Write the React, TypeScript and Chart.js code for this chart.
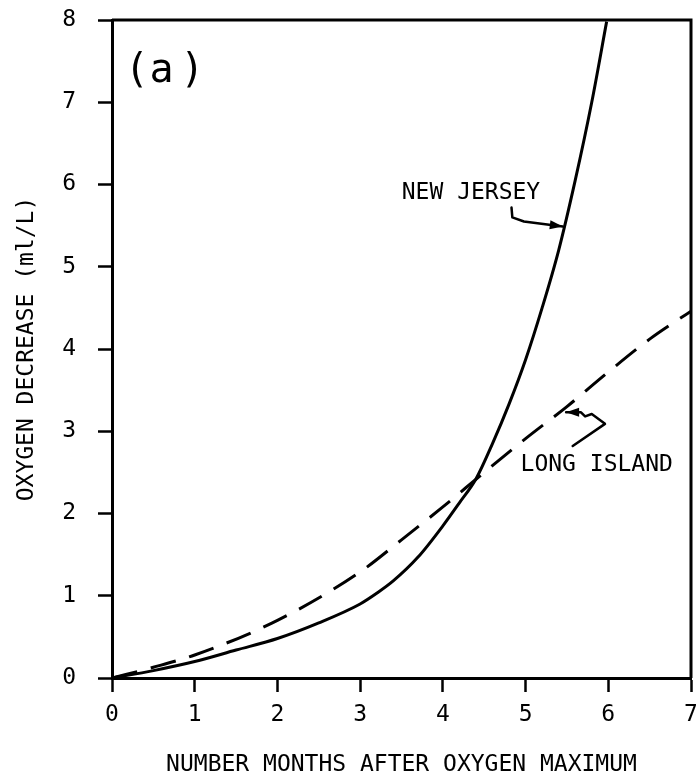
import React, { useEffect, useRef } from 'react';
import { Chart, registerables } from 'chart.js';

Chart.register(...registerables);

const FONT = 'DejaVu Sans Mono';

// Months after oxygen maximum / oxygen decrease (ml/L)
const newJerseyMonths = [0, 0.5, 1, 1.5, 2, 2.5, 3, 3.2, 3.4, 3.7, 4.0, 4.2, 4.4, 4.6, 4.8, 5.0, 5.2, 5.4, 5.6, 5.8, 5.98];
const newJerseyDecrease = [0, 0.09, 0.2, 0.34, 0.48, 0.67, 0.9, 1.03, 1.18, 1.47, 1.85, 2.13, 2.42, 2.85, 3.33, 3.87, 4.5, 5.2, 6.05, 7.0, 7.98];

const longIslandMonths = [0, 0.5, 1, 2, 3, 3.5, 4, 4.5, 5, 5.5, 6, 6.5, 7];
const longIslandDecrease = [0, 0.13, 0.28, 0.7, 1.29, 1.68, 2.08, 2.5, 2.91, 3.3, 3.72, 4.12, 4.46];

const xTitle = 'NUMBER MONTHS AFTER OXYGEN MAXIMUM';
const yTitle = 'OXYGEN DECREASE (ml/L)';

// annotation anchors in data units
const panelLabelChars = ['(', 'a', ')'];
const panelLabelX = [0.3, 0.6, 0.97];
const panelLabelY = 7.37;

const njLabel = 'NEW JERSEY';
const njLabelPos = [4.34, 5.9];
const njArrowX = [4.83, 4.84, 4.98, 5.45];
const njArrowY = [5.72, 5.6, 5.55, 5.49];

const liLabel = 'LONG ISLAND';
const liLabelPos = [5.86, 2.59];
const liArrowX = [5.57, 5.96, 5.8, 5.72, 5.67, 5.49];
const liArrowY = [2.82, 3.09, 3.21, 3.18, 3.23, 3.23];

const annotationPlugin = {
  id: 'annotations',
  afterDatasetsDraw(chart: any) {
    const { ctx, chartArea } = chart;
    const xs = chart.scales.x;
    const ys = chart.scales.y;
    const px = (v: number) => xs.getPixelForValue(v);
    const py = (v: number) => ys.getPixelForValue(v);
    ctx.save();
    // frame (top/right)
    ctx.strokeStyle = '#000';
    ctx.lineWidth = 3;
    ctx.beginPath();
    ctx.moveTo(chartArea.left, chartArea.top);
    ctx.lineTo(chartArea.right, chartArea.top);
    ctx.lineTo(chartArea.right, chartArea.bottom);
    ctx.stroke();

    ctx.fillStyle = '#000';
    ctx.textAlign = 'center';
    ctx.textBaseline = 'middle';
    ctx.font = `40px "${FONT}"`;
    panelLabelChars.forEach((c, i) => ctx.fillText(c, px(panelLabelX[i]), py(panelLabelY)));

    ctx.font = `23px "${FONT}"`;
    ctx.fillText(njLabel, px(njLabelPos[0]), py(njLabelPos[1]));
    ctx.fillText(liLabel, px(liLabelPos[0]), py(liLabelPos[1]));

    const drawArrow = (ax: number[], ay: number[]) => {
      ctx.lineWidth = 2.5;
      ctx.lineJoin = 'round';
      ctx.lineCap = 'round';
      ctx.beginPath();
      ctx.moveTo(px(ax[0]), py(ay[0]));
      for (let i = 1; i < ax.length; i++) ctx.lineTo(px(ax[i]), py(ay[i]));
      ctx.stroke();
      const n = ax.length;
      const x1 = px(ax[n - 2]), y1 = py(ay[n - 2]);
      const x2 = px(ax[n - 1]), y2 = py(ay[n - 1]);
      const ang = Math.atan2(y2 - y1, x2 - x1);
      const L = 13, W = 4.5;
      ctx.beginPath();
      ctx.moveTo(x2, y2);
      ctx.lineTo(x2 - L * Math.cos(ang) + W * Math.sin(ang), y2 - L * Math.sin(ang) - W * Math.cos(ang));
      ctx.lineTo(x2 - L * Math.cos(ang) - W * Math.sin(ang), y2 - L * Math.sin(ang) + W * Math.cos(ang));
      ctx.closePath();
      ctx.fill();
    };
    drawArrow(njArrowX, njArrowY);
    drawArrow(liArrowX, liArrowY);
    ctx.restore();
  },
};

export default function App() {
  const ref = useRef<HTMLCanvasElement>(null);
  useEffect(() => {
    const chart = new Chart(ref.current as HTMLCanvasElement, {
      type: 'scatter',
      data: {
        datasets: [
          {
            label: 'New Jersey',
            data: newJerseyMonths.map((m, i) => ({ x: m, y: newJerseyDecrease[i] })),
            showLine: true,
            borderColor: '#000',
            borderWidth: 3,
            pointRadius: 0,
            cubicInterpolationMode: 'monotone',
            fill: false,
          },
          {
            label: 'Long Island',
            data: longIslandMonths.map((m, i) => ({ x: m, y: longIslandDecrease[i] })),
            showLine: true,
            borderColor: '#000',
            borderWidth: 3,
            borderDash: [26, 14],
            pointRadius: 0,
            cubicInterpolationMode: 'monotone',
            fill: false,
          },
        ],
      },
      options: {
        responsive: false,
        animation: false,
        layout: { padding: { top: 20, right: 5, left: 0, bottom: 0 } },
        plugins: { legend: { display: false }, tooltip: { enabled: false } },
        scales: {
          x: {
            type: 'linear',
            min: 0,
            max: 7,
            ticks: { stepSize: 1, color: '#000', font: { family: FONT, size: 23 }, padding: 9, maxRotation: 0 },
            grid: { drawOnChartArea: false, drawTicks: true, tickLength: 14, tickColor: '#000', tickWidth: 2.5 },
            border: { display: true, color: '#000', width: 3 },
            title: { display: true, text: xTitle, color: '#000', font: { family: FONT, size: 23 }, padding: { top: 0, bottom: 0 } },
            afterFit: (s: any) => {
              s.height = 101;
              s.paddingLeft = 0;
              s.paddingRight = 0;
            },
          },
          y: {
            type: 'linear',
            min: 0,
            max: 8,
            ticks: { stepSize: 1, color: '#000', font: { family: FONT, size: 23 }, padding: 22 },
            grid: { drawOnChartArea: false, drawTicks: true, tickLength: 14, tickColor: '#000', tickWidth: 2.5 },
            border: { display: true, color: '#000', width: 3 },
            title: { display: true, text: yTitle, color: '#000', font: { family: FONT, size: 23 }, padding: { top: 13, bottom: 0 } },
            afterFit: (s: any) => {
              s.width = 112;
              s.paddingTop = 0;
              s.paddingBottom = 0;
            },
          },
        },
      },
      plugins: [annotationPlugin],
    } as any);
    return () => chart.destroy();
  }, []);
  return (
    <div style={{ position: 'absolute', left: 0, top: 0, width: 696, height: 779, background: '#fff' }}>
      <canvas ref={ref} width={696} height={779} style={{ display: 'block' }} />
    </div>
  );
}
